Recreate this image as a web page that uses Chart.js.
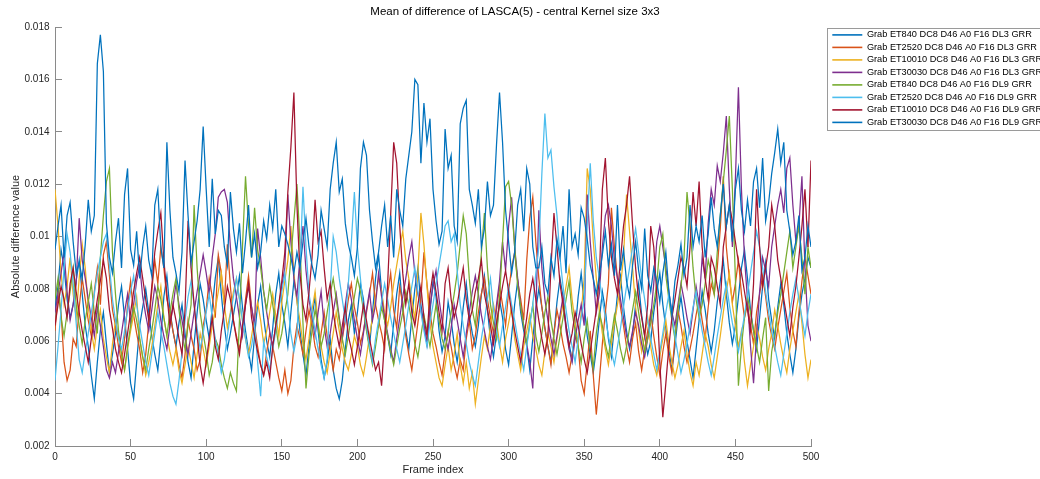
<!DOCTYPE html>
<html>
<head>
<meta charset="utf-8">
<script src="https://cdn.jsdelivr.net/npm/chart.js@4/dist/chart.umd.min.js"></script>
<style>
html,body{margin:0;padding:0;background:#fff;overflow:hidden;width:1040px;height:479px}
#wrap{position:relative;width:1064px;height:479px;margin-left:-17px}
</style>
</head>
<body>
<div id="wrap"><canvas id="c" width="1064" height="479"></canvas></div>
<script>
// ---- data (every 2nd frame) ----
const chartTitle = 'Mean of difference of LASCA(5) - central Kernel size 3x3';
const xTitle = 'Frame index';
const yTitle = 'Absolute difference value';
const seriesNames = [
  'Grab ET840 DC8 D46 A0 F16 DL3 GRR',
  'Grab ET2520 DC8 D46 A0 F16 DL3 GRR',
  'Grab ET10010 DC8 D46 A0 F16 DL3 GRR',
  'Grab ET30030 DC8 D46 A0 F16 DL3 GRR',
  'Grab ET840 DC8 D46 A0 F16 DL9 GRR',
  'Grab ET2520 DC8 D46 A0 F16 DL9 GRR',
  'Grab ET10010 DC8 D46 A0 F16 DL9 GRR',
  'Grab ET30030 DC8 D46 A0 F16 DL9 GRR'
];
const seriesColors = ['#0072BD','#D95319','#EDB120','#7E2F8E','#77AC30','#4DBEEE','#A2142F','#0072BD'];
// frame indices 0,2,4,...,500
const frameIndex = Array.from({length: 251}, (_, i) => i * 2);

const et840DL3 = [
.0072,.0081,.0095,.0088,.0076,.0069,.0074,.0083,.0091,.0078,
.0066,.0058,.0047,.0038,.0052,.0064,.0071,.0059,.0048,.0055,
.0063,.0074,.0081,.0069,.0057,.0044,.0038,.0052,.0066,.0073,
.0080,.0071,.0062,.0055,.0049,.0061,.0077,.0085,.0072,.0064,
.0058,.0067,.0074,.0063,.0052,.0046,.0059,.0071,.0082,.0076,
.0068,.0061,.0073,.0084,.0092,.0078,.0066,.0057,.0063,.0070,
.0077,.0085,.0073,.0064,.0056,.0049,.0062,.0074,.0081,.0069,
.0060,.0054,.0065,.0078,.0086,.0074,.0067,.0058,.0071,.0083,
.0076,.0064,.0055,.0047,.0058,.0069,.0077,.0064,.0053,.0046,
.0052,.0061,.0049,.0042,.0038,.0045,.0057,.0068,.0074,.0063,
.0071,.0082,.0076,.0065,.0058,.0071,.0084,.0093,.0079,.0068,
.0062,.0055,.0067,.0078,.0086,.0072,.0064,.0057,.0069,.0080,
.0088,.0074,.0066,.0059,.0071,.0083,.0077,.0064,.0056,.0062,
.0075,.0068,.0059,.0052,.0061,.0073,.0082,.0070,.0063,.0058,
.0066,.0078,.0085,.0072,.0061,.0054,.0063,.0076,.0069,.0057,
.0051,.0062,.0074,.0083,.0071,.0064,.0058,.0049,.0061,.0072,
.0080,.0073,.0065,.0058,.0052,.0063,.0075,.0084,.0077,.0066,
.0059,.0053,.0064,.0077,.0086,.0074,.0062,.0055,.0048,.0057,
.0068,.0079,.0072,.0061,.0054,.0066,.0078,.0085,.0073,.0064,
.0057,.0063,.0074,.0082,.0070,.0062,.0055,.0060,.0071,.0079,
.0086,.0074,.0065,.0057,.0049,.0058,.0069,.0077,.0068,.0060,
.0053,.0046,.0057,.0068,.0079,.0072,.0063,.0056,.0064,.0075,
.0083,.0091,.0078,.0067,.0059,.0066,.0077,.0088,.0095,.0084,
.0072,.0064,.0057,.0069,.0081,.0090,.0076,.0068,.0061,.0073,
.0082,.0074,.0063,.0055,.0048,.0057,.0069,.0078,.0084,.0092,
.0088];

const et2520DL3 = [
.0064,.0078,.0071,.0052,.0045,.0049,.0061,.0058,.0073,.0084,
.0076,.0068,.0062,.0079,.0088,.0074,.0093,.0098,.0085,.0072,
.0066,.0058,.0052,.0061,.0074,.0083,.0070,.0063,.0057,.0048,
.0055,.0067,.0079,.0091,.0082,.0096,.0088,.0076,.0071,.0064,
.0058,.0051,.0046,.0055,.0068,.0062,.0057,.0049,.0053,.0066,
.0072,.0084,.0077,.0069,.0093,.0086,.0074,.0097,.0081,.0068,
.0062,.0057,.0064,.0076,.0085,.0073,.0066,.0058,.0051,.0047,
.0056,.0063,.0058,.0052,.0046,.0041,.0049,.0040,.0045,.0058,
.0066,.0061,.0055,.0064,.0072,.0066,.0058,.0054,.0063,.0071,
.0062,.0056,.0049,.0057,.0053,.0061,.0068,.0076,.0082,.0073,
.0067,.0059,.0064,.0071,.0078,.0086,.0074,.0068,.0063,.0057,
.0078,.0086,.0072,.0065,.0081,.0074,.0062,.0055,.0049,.0058,
.0067,.0076,.0094,.0082,.0071,.0063,.0058,.0052,.0047,.0056,
.0064,.0058,.0051,.0046,.0053,.0049,.0061,.0068,.0057,.0062,
.0071,.0078,.0084,.0076,.0069,.0063,.0072,.0081,.0074,.0066,
.0079,.0088,.0094,.0083,.0076,.0068,.0091,.0107,.0115,.0098,
.0084,.0073,.0065,.0058,.0051,.0063,.0072,.0066,.0059,.0054,
.0048,.0055,.0062,.0058,.0045,.0040,.0052,.0064,.0047,.0032,
.0045,.0059,.0071,.0082,.0111,.0096,.0084,.0073,.0066,.0058,
.0052,.0061,.0067,.0056,.0049,.0057,.0064,.0071,.0062,.0054,
.0047,.0056,.0063,.0054,.0048,.0061,.0072,.0066,.0058,.0052,
.0057,.0063,.0070,.0076,.0068,.0061,.0073,.0082,.0078,.0088,
.0103,.0123,.0096,.0084,.0075,.0082,.0091,.0078,.0069,.0074,
.0066,.0059,.0071,.0078,.0085,.0077,.0068,.0062,.0057,.0065,
.0072,.0079,.0086,.0073,.0064,.0058,.0071,.0083,.0092,.0085,
.0078];

const et10010DL3 = [
.0118,.0104,.0086,.0074,.0081,.0092,.0078,.0069,.0084,.0097,
.0088,.0073,.0064,.0057,.0066,.0072,.0061,.0054,.0048,.0059,
.0068,.0062,.0055,.0049,.0057,.0064,.0070,.0077,.0061,.0054,
.0047,.0052,.0058,.0066,.0074,.0081,.0069,.0062,.0056,.0051,
.0057,.0049,.0044,.0051,.0058,.0052,.0046,.0055,.0063,.0057,
.0051,.0058,.0066,.0072,.0079,.0086,.0074,.0065,.0071,.0079,
.0084,.0076,.0068,.0061,.0055,.0062,.0069,.0075,.0068,.0059,
.0064,.0071,.0078,.0070,.0062,.0075,.0083,.0091,.0104,.0086,
.0075,.0068,.0059,.0053,.0061,.0072,.0079,.0067,.0058,.0052,
.0048,.0056,.0063,.0071,.0064,.0057,.0052,.0049,.0055,.0062,
.0058,.0051,.0047,.0054,.0062,.0069,.0077,.0084,.0079,.0071,
.0066,.0073,.0082,.0089,.0096,.0102,.0091,.0084,.0076,.0068,
.0086,.0109,.0097,.0081,.0067,.0058,.0052,.0046,.0043,.0051,
.0058,.0049,.0055,.0063,.0051,.0044,.0052,.0042,.0048,.0036,
.0045,.0054,.0062,.0057,.0066,.0074,.0068,.0059,.0052,.0061,
.0067,.0073,.0061,.0055,.0049,.0058,.0064,.0070,.0062,.0057,
.0051,.0047,.0056,.0063,.0058,.0052,.0061,.0068,.0074,.0081,
.0088,.0076,.0067,.0059,.0071,.0084,.0126,.0118,.0098,.0084,
.0072,.0063,.0057,.0051,.0059,.0067,.0074,.0081,.0092,.0116,
.0102,.0088,.0073,.0064,.0056,.0062,.0069,.0058,.0051,.0047,
.0054,.0061,.0068,.0059,.0052,.0046,.0051,.0058,.0064,.0055,
.0048,.0043,.0052,.0047,.0055,.0063,.0058,.0051,.0046,.0054,
.0062,.0071,.0079,.0086,.0074,.0066,.0058,.0064,.0052,.0043,
.0051,.0058,.0066,.0061,.0054,.0049,.0057,.0063,.0072,.0066,
.0059,.0053,.0048,.0057,.0064,.0071,.0078,.0067,.0055,.0046,
.0053];

const et30030DL3 = [
.0071,.0078,.0086,.0094,.0079,.0068,.0074,.0082,.0107,.0091,
.0084,.0076,.0069,.0062,.0073,.0066,.0058,.0049,.0046,.0052,
.0048,.0056,.0063,.0071,.0078,.0067,.0074,.0083,.0089,.0077,
.0070,.0064,.0072,.0081,.0076,.0068,.0062,.0057,.0066,.0073,
.0082,.0074,.0068,.0061,.0055,.0063,.0071,.0079,.0086,.0093,
.0086,.0078,.0092,.0101,.0115,.0117,.0118,.0113,.0096,.0084,
.0077,.0069,.0062,.0074,.0081,.0073,.0066,.0103,.0092,.0079,
.0071,.0064,.0058,.0066,.0073,.0081,.0088,.0116,.0098,.0084,
.0077,.0092,.0104,.0087,.0076,.0069,.0062,.0071,.0079,.0066,
.0058,.0063,.0071,.0078,.0069,.0061,.0074,.0082,.0076,.0068,
.0061,.0055,.0063,.0072,.0079,.0068,.0074,.0086,.0077,.0069,
.0063,.0057,.0052,.0061,.0069,.0077,.0084,.0092,.0098,.0086,
.0078,.0072,.0066,.0059,.0073,.0081,.0087,.0076,.0068,.0062,
.0057,.0065,.0074,.0068,.0061,.0054,.0063,.0071,.0079,.0085,
.0078,.0070,.0064,.0058,.0053,.0062,.0074,.0083,.0098,.0087,
.0104,.0115,.0096,.0084,.0073,.0066,.0059,.0052,.0042,.0071,
.0110,.0088,.0076,.0068,.0061,.0055,.0062,.0070,.0077,.0064,
.0057,.0052,.0061,.0068,.0074,.0066,.0116,.0098,.0084,.0071,
.0078,.0096,.0108,.0112,.0104,.0091,.0084,.0076,.0069,.0062,
.0058,.0064,.0071,.0066,.0059,.0054,.0061,.0069,.0082,.0098,
.0104,.0096,.0088,.0079,.0071,.0066,.0074,.0082,.0076,.0069,
.0063,.0072,.0081,.0074,.0092,.0084,.0105,.0118,.0112,.0127,
.0121,.0132,.0146,.0118,.0096,.0122,.0157,.0118,.0092,.0076,
.0058,.0044,.0062,.0079,.0092,.0087,.0081,.0096,.0104,.0112,
.0118,.0109,.0126,.0130,.0112,.0098,.0104,.0123,.0088,.0066,
.0060];

const et840DL9 = [
.0076,.0084,.0069,.0062,.0071,.0079,.0088,.0074,.0066,.0059,
.0068,.0075,.0082,.0071,.0063,.0092,.0108,.0121,.0126,.0094,
.0078,.0064,.0055,.0049,.0058,.0066,.0073,.0068,.0061,.0054,
.0049,.0057,.0064,.0072,.0081,.0076,.0069,.0062,.0071,.0078,
.0084,.0072,.0063,.0057,.0066,.0074,.0112,.0088,.0071,.0063,
.0056,.0047,.0052,.0061,.0058,.0051,.0046,.0042,.0048,.0044,
.0041,.0068,.0096,.0123,.0104,.0092,.0111,.0095,.0088,.0079,
.0072,.0081,.0074,.0066,.0058,.0063,.0071,.0078,.0092,.0106,
.0120,.0098,.0067,.0042,.0055,.0064,.0072,.0066,.0058,.0063,
.0071,.0078,.0084,.0076,.0068,.0061,.0055,.0062,.0070,.0077,
.0084,.0079,.0072,.0064,.0057,.0051,.0058,.0066,.0073,.0068,
.0062,.0056,.0051,.0058,.0065,.0071,.0079,.0074,.0067,.0059,
.0054,.0062,.0070,.0064,.0058,.0066,.0074,.0068,.0061,.0057,
.0063,.0071,.0078,.0086,.0097,.0108,.0101,.0084,.0072,.0066,
.0079,.0094,.0109,.0088,.0074,.0067,.0061,.0076,.0098,.0119,
.0121,.0112,.0096,.0081,.0073,.0066,.0059,.0067,.0074,.0062,
.0056,.0063,.0071,.0077,.0068,.0061,.0055,.0062,.0069,.0076,
.0083,.0071,.0064,.0058,.0052,.0061,.0068,.0057,.0050,.0063,
.0071,.0066,.0059,.0054,.0062,.0070,.0064,.0057,.0052,.0058,
.0065,.0072,.0079,.0071,.0063,.0056,.0061,.0067,.0074,.0082,
.0096,.0101,.0085,.0076,.0068,.0061,.0072,.0081,.0092,.0117,
.0104,.0088,.0076,.0069,.0074,.0082,.0091,.0086,.0078,.0094,
.0108,.0121,.0133,.0146,.0118,.0084,.0043,.0058,.0069,.0077,
.0071,.0064,.0058,.0052,.0061,.0069,.0041,.0056,.0063,.0071,
.0078,.0086,.0094,.0102,.0088,.0096,.0104,.0092,.0078,.0096,
.0088];

const et2520DL9 = [
.0045,.0058,.0072,.0088,.0101,.0094,.0082,.0067,.0053,.0048,
.0056,.0063,.0071,.0078,.0086,.0092,.0098,.0101,.0089,.0076,
.0068,.0061,.0057,.0064,.0072,.0079,.0085,.0074,.0066,.0059,
.0052,.0047,.0055,.0063,.0071,.0064,.0058,.0051,.0044,.0039,
.0036,.0045,.0056,.0068,.0077,.0083,.0074,.0065,.0057,.0063,
.0071,.0078,.0069,.0061,.0055,.0048,.0053,.0062,.0070,.0077,
.0084,.0076,.0068,.0061,.0054,.0058,.0066,.0052,.0039,.0060,
.0054,.0049,.0057,.0064,.0072,.0079,.0086,.0074,.0063,.0056,
.0062,.0088,.0119,.0096,.0078,.0071,.0064,.0057,.0051,.0046,
.0053,.0079,.0100,.0094,.0084,.0076,.0068,.0082,.0098,.0117,
.0096,.0084,.0073,.0066,.0058,.0052,.0061,.0068,.0075,.0082,
.0076,.0069,.0063,.0057,.0052,.0059,.0066,.0074,.0081,.0088,
.0079,.0071,.0064,.0058,.0067,.0074,.0082,.0089,.0096,.0104,
.0106,.0098,.0101,.0087,.0074,.0066,.0059,.0052,.0047,.0043,
.0052,.0061,.0068,.0076,.0084,.0072,.0064,.0058,.0066,.0073,
.0081,.0074,.0068,.0061,.0055,.0049,.0058,.0066,.0074,.0086,
.0096,.0124,.0147,.0130,.0133,.0119,.0108,.0092,.0081,.0072,
.0064,.0058,.0052,.0061,.0069,.0076,.0104,.0128,.0106,.0092,
.0084,.0076,.0069,.0062,.0056,.0051,.0058,.0065,.0073,.0081,
.0088,.0096,.0103,.0094,.0084,.0076,.0068,.0061,.0055,.0049,
.0056,.0063,.0071,.0078,.0070,.0062,.0055,.0048,.0053,.0059,
.0066,.0073,.0079,.0071,.0064,.0058,.0052,.0047,.0054,.0062,
.0069,.0076,.0082,.0074,.0067,.0061,.0056,.0063,.0070,.0078,
.0086,.0094,.0102,.0096,.0088,.0079,.0071,.0064,.0058,.0052,
.0047,.0055,.0063,.0071,.0078,.0084,.0076,.0069,.0062,.0071,
.0078];

const et10010DL9 = [
.0066,.0074,.0081,.0076,.0069,.0082,.0088,.0079,.0071,.0064,
.0058,.0052,.0061,.0068,.0076,.0083,.0091,.0084,.0072,.0065,
.0057,.0052,.0048,.0055,.0063,.0071,.0079,.0086,.0092,.0084,
.0076,.0068,.0081,.0094,.0102,.0109,.0091,.0078,.0066,.0074,
.0068,.0061,.0055,.0072,.0106,.0088,.0074,.0062,.0051,.0044,
.0052,.0061,.0069,.0058,.0053,.0064,.0072,.0081,.0076,.0068,
.0061,.0055,.0066,.0074,.0082,.0069,.0062,.0056,.0051,.0047,
.0052,.0046,.0058,.0066,.0074,.0083,.0094,.0117,.0134,.0155,
.0112,.0086,.0074,.0068,.0079,.0092,.0114,.0098,.0102,.0088,
.0076,.0082,.0071,.0064,.0058,.0066,.0073,.0062,.0057,.0051,
.0058,.0066,.0074,.0068,.0061,.0055,.0049,.0052,.0043,.0061,
.0082,.0108,.0136,.0128,.0104,.0086,.0074,.0082,.0071,.0066,
.0074,.0081,.0069,.0062,.0078,.0086,.0079,.0071,.0064,.0082,
.0088,.0076,.0069,.0074,.0081,.0088,.0076,.0068,.0072,.0079,
.0084,.0091,.0078,.0072,.0066,.0059,.0067,.0074,.0081,.0087,
.0079,.0071,.0064,.0058,.0052,.0061,.0069,.0078,.0084,.0076,
.0068,.0061,.0055,.0062,.0088,.0109,.0096,.0082,.0074,.0066,
.0058,.0063,.0071,.0066,.0059,.0053,.0048,.0056,.0064,.0072,
.0084,.0118,.0130,.0106,.0092,.0084,.0078,.0091,.0104,.0112,
.0123,.0104,.0088,.0076,.0069,.0062,.0074,.0104,.0096,.0078,
.0052,.0031,.0044,.0058,.0069,.0076,.0084,.0092,.0088,.0081,
.0096,.0117,.0104,.0121,.0096,.0084,.0076,.0092,.0088,.0081,
.0074,.0096,.0104,.0112,.0106,.0098,.0090,.0086,.0079,.0072,
.0064,.0082,.0118,.0096,.0081,.0088,.0096,.0112,.0104,.0091,
.0084,.0076,.0069,.0062,.0073,.0081,.0092,.0104,.0118,.0096,
.0129];

const et30030DL9 = [
.0095,.0104,.0112,.0092,.0108,.0113,.0098,.0086,.0090,.0084,
.0097,.0114,.0102,.0108,.0166,.0177,.0163,.0105,.0092,.0086,
.0098,.0107,.0088,.0116,.0126,.0095,.0089,.0102,.0084,.0096,
.0104,.0091,.0085,.0112,.0118,.0096,.0088,.0136,.0110,.0092,
.0086,.0079,.0094,.0129,.0108,.0090,.0098,.0106,.0118,.0142,
.0118,.0096,.0122,.0101,.0110,.0108,.0096,.0089,.0117,.0103,
.0094,.0105,.0086,.0098,.0112,.0092,.0101,.0088,.0094,.0106,
.0099,.0112,.0103,.0118,.0096,.0104,.0101,.0097,.0092,.0086,
.0094,.0088,.0098,.0107,.0096,.0089,.0084,.0093,.0110,.0103,
.0096,.0118,.0128,.0136,.0117,.0122,.0105,.0097,.0092,.0085,
.0096,.0126,.0136,.0131,.0110,.0098,.0088,.0094,.0104,.0112,
.0096,.0108,.0092,.0118,.0110,.0104,.0122,.0131,.0140,.0160,
.0158,.0128,.0151,.0136,.0145,.0118,.0106,.0097,.0102,.0141,
.0126,.0131,.0104,.0098,.0143,.0149,.0152,.0118,.0112,.0105,
.0118,.0096,.0103,.0121,.0108,.0112,.0135,.0155,.0136,.0110,
.0098,.0086,.0094,.0112,.0118,.0102,.0126,.0120,.0096,.0088,
.0088,.0096,.0082,.0078,.0092,.0085,.0099,.0092,.0104,.0086,
.0118,.0096,.0101,.0093,.0111,.0107,.0099,.0089,.0084,.0078,
.0085,.0093,.0102,.0089,.0097,.0085,.0112,.0087,.0095,.0083,
.0077,.0089,.0098,.0087,.0080,.0103,.0085,.0079,.0088,.0083,
.0075,.0086,.0094,.0079,.0070,.0083,.0089,.0097,.0085,.0092,
.0112,.0096,.0104,.0098,.0108,.0092,.0101,.0115,.0103,.0096,
.0108,.0120,.0104,.0112,.0098,.0118,.0126,.0110,.0102,.0114,
.0104,.0121,.0126,.0111,.0130,.0106,.0113,.0124,.0132,.0141,
.0128,.0136,.0110,.0102,.0093,.0098,.0108,.0087,.0092,.0104,
.0096];

const seriesValues = [et840DL3, et2520DL3, et10010DL3, et30030DL3, et840DL9, et2520DL9, et10010DL9, et30030DL9];
const xTicks = [0, 50, 100, 150, 200, 250, 300, 350, 400, 450, 500];
const yTicks = [0.002, 0.004, 0.006, 0.008, 0.010, 0.012, 0.014, 0.016, 0.018];
const yTickLabels = ['0.002', '0.004', '0.006', '0.008', '0.01', '0.012', '0.014', '0.016', '0.018'];

// ---- chart ----
const FONT = "'Liberation Sans', Arial, Helvetica, sans-serif";
const AXIS_COLOR = '#8a8a8a';
const TEXT_COLOR = '#262626';

const legendFrame = {
  id: 'legendFrame',
  afterDraw(chart) {
    const lg = chart.legend;
    if (!lg || !lg.legendHitBoxes || !lg.legendHitBoxes.length) return;
    const hb = lg.legendHitBoxes;
    const last = hb[hb.length - 1];
    const x0 = Math.round(lg.left - 2) + 0.5;
    const y0 = Math.round(hb[0].top - 2.5) + 0.5;
    const y1 = Math.round(last.top + last.height + 3) + 0.5;
    const ctx = chart.ctx;
    ctx.save();
    ctx.strokeStyle = '#9a9a9a';
    ctx.lineWidth = 1;
    ctx.strokeRect(x0, y0, chart.width, y1 - y0);
    ctx.restore();
  }
};

const datasets = seriesValues.map((vals, i) => ({
  label: seriesNames[i],
  data: vals.map((v, j) => ({x: frameIndex[j], y: v})),
  borderColor: seriesColors[i],
  backgroundColor: seriesColors[i],
  borderWidth: 1.25,
  pointRadius: 0,
  tension: 0,
  fill: false,
  order: seriesValues.length - 1 - i
}));

new Chart(document.getElementById('c'), {
  type: 'line',
  data: {datasets},
  options: {
    responsive: false,
    animation: false,
    devicePixelRatio: 1,
    layout: {padding: {left: 0, right: 0, top: 0, bottom: 0}},
    plugins: {
      title: {
        display: true, text: chartTitle, color: '#000',
        font: {family: FONT, size: 11.5, weight: 'normal'},
        padding: {top: 5.4, bottom: 7.8}
      },
      tooltip: {enabled: false},
      legend: {
        position: 'right', align: 'start', fullSize: false, maxWidth: 218,
        labels: {
          usePointStyle: true, pointStyle: 'line', pointStyleWidth: 30,
          font: {family: FONT, size: 9.2}, color: '#000', padding: 3.3,
          generateLabels: chart => Chart.defaults.plugins.legend.labels.generateLabels(chart)
            .map(l => Object.assign(l, {lineWidth: 1.6})),
          sort: (a, b) => a.datasetIndex - b.datasetIndex
        }
      }
    },
    scales: {
      x: {
        type: 'linear', min: 0, max: 500,
        afterBuildTicks: s => { s.ticks = xTicks.map(v => ({value: v})); },
        afterFit: s => { s.height = 33; },
        ticks: {autoSkip: false, maxRotation: 0, padding: 12.5, color: TEXT_COLOR,
                font: {family: FONT, size: 10}, callback: v => String(v)},
        grid: {drawOnChartArea: false, tickLength: -7, color: AXIS_COLOR, lineWidth: 1},
        border: {display: true, color: AXIS_COLOR, width: 1},
        title: {display: true, text: xTitle, color: TEXT_COLOR, font: {family: FONT, size: 11},
                padding: {top: 0, bottom: 2.4}}
      },
      y: {
        type: 'linear', min: 0.002, max: 0.018,
        afterBuildTicks: s => { s.ticks = yTicks.map(v => ({value: v})); },
        afterFit: s => { s.width = 72; },
        ticks: {autoSkip: false, padding: 12.5, color: TEXT_COLOR,
                font: {family: FONT, size: 10}, callback: (v, i) => yTickLabels[i]},
        grid: {drawOnChartArea: false, tickLength: -7, color: AXIS_COLOR, lineWidth: 1},
        border: {display: true, color: AXIS_COLOR, width: 1},
        title: {display: true, text: yTitle, color: TEXT_COLOR, font: {family: FONT, size: 11},
                padding: {top: 26.4, bottom: 0}}
      },
      gap: {
        type: 'linear', position: 'right', display: true,
        afterFit: s => { s.width = 18; },
        ticks: {display: false},
        grid: {display: false, drawTicks: false},
        border: {display: false}
      }
    }
  },
  plugins: [legendFrame]
});
</script>
</body>
</html>
